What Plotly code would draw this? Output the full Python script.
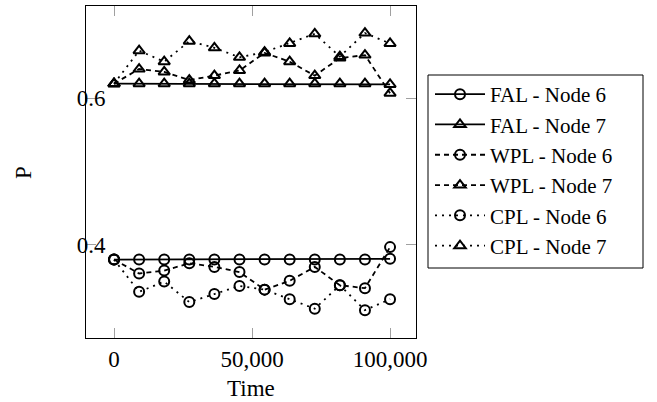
import numpy as np
import plotly.graph_objects as go

time = [0, 9091, 18182, 27273, 36364, 45455, 54545, 63636, 72727, 81818, 90909, 100000]

fal_node6 = [0.38, 0.38, 0.38, 0.38, 0.38, 0.38, 0.38, 0.38, 0.38, 0.38, 0.38, 0.381]
fal_node7 = [0.62, 0.62, 0.62, 0.62, 0.62, 0.62, 0.62, 0.62, 0.62, 0.62, 0.62, 0.619]
wpl_node6 = [0.38, 0.361, 0.365, 0.375, 0.370, 0.363, 0.339, 0.351, 0.370, 0.345, 0.341, 0.397]
wpl_node7 = [0.62, 0.640, 0.636, 0.625, 0.631, 0.638, 0.662, 0.650, 0.631, 0.655, 0.659, 0.607]
cpl_node6 = [0.38, 0.336, 0.350, 0.322, 0.333, 0.344, 0.339, 0.326, 0.313, 0.345, 0.311, 0.326]
cpl_node7 = [0.62, 0.665, 0.650, 0.678, 0.669, 0.656, 0.663, 0.675, 0.688, 0.657, 0.689, 0.675]

x_ticks = [0, 50000, 100000]
y_ticks = [0.4, 0.6]
x_title = "Time"
y_title = "P"

series = [
    ("FAL - Node 6", fal_node6, "solid", "circle-open"),
    ("FAL - Node 7", fal_node7, "solid", "triangle-up-open"),
    ("WPL - Node 6", wpl_node6, "5px,4px", "circle-open"),
    ("WPL - Node 7", wpl_node7, "5px,4px", "triangle-up-open"),
    ("CPL - Node 6", cpl_node6, "2px,5px", "circle-open"),
    ("CPL - Node 7", cpl_node7, "2px,5px", "triangle-up-open"),
]

fig = go.Figure()
for name, vals, dash, sym in series:
    fig.add_trace(go.Scatter(
        x=time, y=vals, name=name, mode="lines+markers",
        line=dict(color="black", width=1.8, dash=dash),
        marker=dict(symbol=sym, size=10,
                    color="black", line=dict(color="black", width=2)),
    ))

font = dict(family="Liberation Serif, Times New Roman, serif", size=23, color="black")

# plot area: x 86..416 px, y 6..338 px
pw, ph = 330.0, 332.0
fig.add_shape(type="rect", xref="paper", yref="paper",
              x0=(428 - 86) / pw, x1=(643 - 86) / pw,
              y0=(338 - 268) / ph, y1=(338 - 75) / ph,
              line=dict(color="black", width=1), fillcolor="rgba(0,0,0,0)")

fig.add_annotation(text=x_title, xref="paper", yref="paper",
                   x=0.5, y=(338 - 388) / ph, xanchor="center", yanchor="middle",
                   showarrow=False, font=font)
fig.add_annotation(text=y_title, xref="paper", yref="paper",
                   x=(23 - 86) / pw, y=(338 - 173) / ph, xanchor="center", yanchor="middle",
                   textangle=-90, showarrow=False, font=font)

fig.update_layout(
    width=657, height=402,
    margin=dict(l=86, r=241, t=6, b=64),
    paper_bgcolor="white", plot_bgcolor="white",
    font=font,
    showlegend=True,
    legend=dict(
        x=(430 - 86) / pw, y=(338 - 74) / ph, xanchor="left", yanchor="top",
        borderwidth=0, bgcolor="rgba(0,0,0,0)",
        font=dict(family=font["family"], size=21, color="black"),
        tracegroupgap=0, itemwidth=50,
    ),
    xaxis=dict(
        range=[-10150, 109400], tickvals=x_ticks, tickformat=",d",
        ticks="inside", ticklen=10, tickwidth=1, tickcolor="#a0a0a0",
        showline=True, linecolor="black", linewidth=1, mirror="ticks",
        showgrid=False, zeroline=False, automargin=False,
    ),
    yaxis=dict(
        range=[0.273, 0.726], tickvals=y_ticks, tickformat=".1f",
        ticks="inside", ticklen=10, tickwidth=1, tickcolor="#a0a0a0",
        showline=True, linecolor="black", linewidth=1, mirror="ticks",
        showgrid=False, zeroline=False, ticklabelstandoff=-25, automargin=False,
    ),
)

fig.write_html("out.html")
